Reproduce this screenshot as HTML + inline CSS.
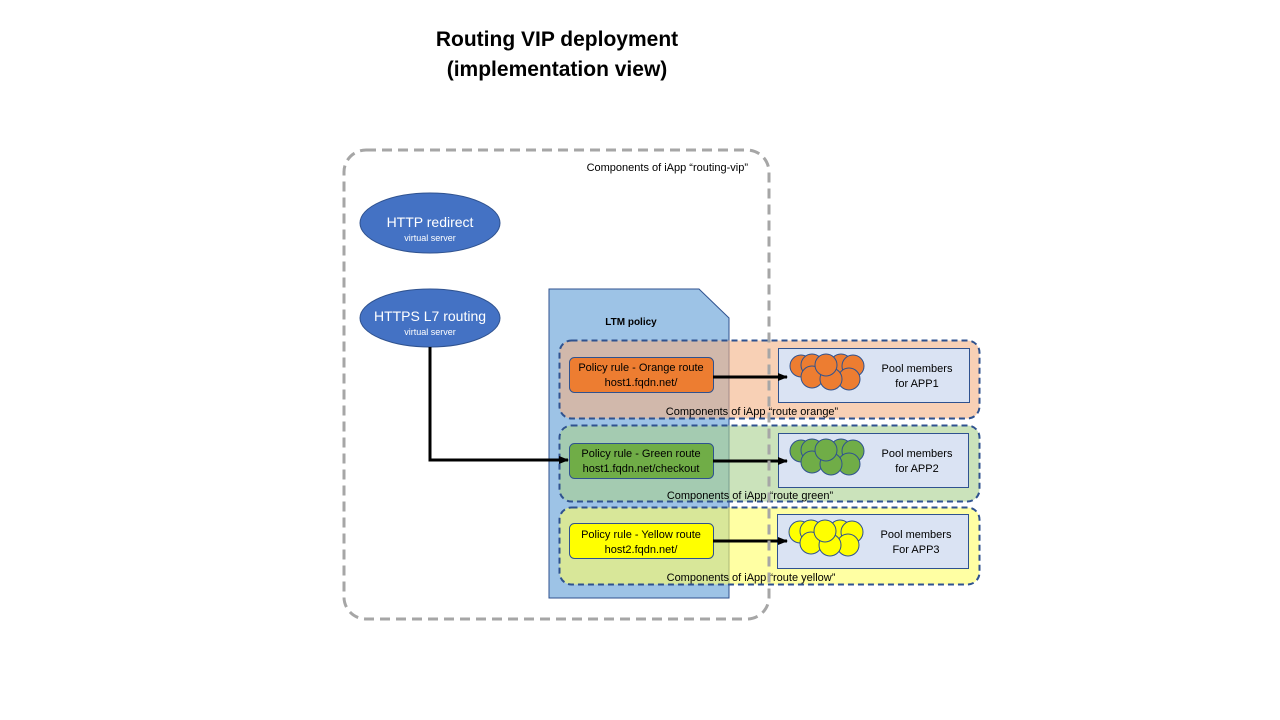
<!DOCTYPE html>
<html><head><meta charset="utf-8"><style>
html,body{margin:0;padding:0;background:#fff;}
svg{display:block;font-family:"Liberation Sans",Calibri,sans-serif;}
</style></head><body>
<svg width="1280" height="720" viewBox="0 0 1280 720" xmlns="http://www.w3.org/2000/svg">
<defs>
<marker id="ar" markerWidth="10" markerHeight="8" refX="9" refY="4" orient="auto" markerUnits="userSpaceOnUse">
<path d="M0,0 L10,4 L0,8 z" fill="#000"/>
</marker>
<g id="cl">
<circle cx="0" cy="0" r="11"/><circle cx="11" cy="-1" r="11"/>
<circle cx="40" cy="-1" r="11"/><circle cx="52" cy="0" r="11"/>
<circle cx="11" cy="11" r="11"/><circle cx="48" cy="13" r="11"/>
<circle cx="30" cy="13" r="11"/><circle cx="25" cy="-1" r="11"/>
</g>
</defs>
<text x="557" y="46" font-size="21" font-weight="bold" text-anchor="middle">Routing VIP deployment</text>
<text x="557" y="76" font-size="21" font-weight="bold" text-anchor="middle">(implementation view)</text>

<ellipse cx="430" cy="223" rx="70" ry="30" fill="#4472c4" stroke="#2f528f"/>
<text x="430" y="227" font-size="14" fill="#fff" text-anchor="middle">HTTP redirect</text>
<text x="430" y="241" font-size="9" fill="#fff" text-anchor="middle">virtual server</text>
<ellipse cx="430" cy="318" rx="70" ry="29" fill="#4472c4" stroke="#2f528f"/>
<text x="430" y="321" font-size="14" fill="#fff" text-anchor="middle">HTTPS L7 routing</text>
<text x="430" y="335" font-size="9" fill="#fff" text-anchor="middle">virtual server</text>

<path d="M549,289 L699,289 L729,318 L729,598 L549,598 Z" fill="#9dc3e6" stroke="#2f528f" stroke-width="1"/>
<text x="631" y="325" font-size="10" font-weight="bold" text-anchor="middle">LTM policy</text>

<rect x="559.5" y="340.5" width="420" height="78" rx="12" fill="#f4b183" fill-opacity="0.6" stroke="#2f528f" stroke-width="2" stroke-dasharray="6,4"/>
<rect x="559.5" y="425.5" width="420" height="76" rx="12" fill="#a9d18e" fill-opacity="0.6" stroke="#2f528f" stroke-width="2" stroke-dasharray="6,4"/>
<rect x="559.5" y="507.5" width="420" height="77" rx="12" fill="#ffff66" fill-opacity="0.6" stroke="#2f528f" stroke-width="2" stroke-dasharray="6,4"/>

<rect x="569.5" y="357.5" width="144" height="35" rx="5" fill="#ed7d31" stroke="#2f528f"/>
<text x="641" y="371" font-size="11" text-anchor="middle">Policy rule - Orange route</text>
<text x="641" y="386" font-size="11" text-anchor="middle">host1.fqdn.net/</text>
<rect x="569.5" y="443.5" width="144" height="35" rx="5" fill="#70ad47" stroke="#2f528f"/>
<text x="641" y="457" font-size="11" text-anchor="middle">Policy rule - Green route</text>
<text x="641" y="472" font-size="11" text-anchor="middle">host1.fqdn.net/checkout</text>
<rect x="569.5" y="523.5" width="144" height="35" rx="5" fill="#ffff00" stroke="#2f528f"/>
<text x="641" y="538" font-size="11" text-anchor="middle">Policy rule - Yellow route</text>
<text x="641" y="553" font-size="11" text-anchor="middle">host2.fqdn.net/</text>

<rect x="778.5" y="348.5" width="191" height="54" fill="#dae3f3" stroke="#2f528f"/>
<rect x="778.5" y="433.5" width="190" height="54" fill="#dae3f3" stroke="#2f528f"/>
<rect x="777.5" y="514.5" width="191" height="54" fill="#dae3f3" stroke="#2f528f"/>
<use href="#cl" x="801" y="366" fill="#ed7d31" stroke="#2f528f"/>
<use href="#cl" x="801" y="451" fill="#70ad47" stroke="#2f528f"/>
<use href="#cl" x="800" y="532" fill="#ffff00" stroke="#2f528f"/>
<text x="917" y="372" font-size="11" text-anchor="middle">Pool members</text>
<text x="917" y="387" font-size="11" text-anchor="middle">for APP1</text>
<text x="917" y="457" font-size="11" text-anchor="middle">Pool members</text>
<text x="917" y="472" font-size="11" text-anchor="middle">for APP2</text>
<text x="916" y="538" font-size="11" text-anchor="middle">Pool members</text>
<text x="916" y="553" font-size="11" text-anchor="middle">For APP3</text>

<text x="752" y="415" font-size="11" text-anchor="middle">Components of iApp “route orange”</text>
<text x="750" y="499" font-size="11" text-anchor="middle">Components of iApp “route green”</text>
<text x="751" y="581" font-size="11" text-anchor="middle">Components of iApp “route yellow”</text>

<line x1="713" y1="377" x2="787" y2="377" stroke="#000" stroke-width="3" marker-end="url(#ar)"/>
<line x1="713" y1="461" x2="787" y2="461" stroke="#000" stroke-width="3" marker-end="url(#ar)"/>
<line x1="713" y1="541" x2="787" y2="541" stroke="#000" stroke-width="3" marker-end="url(#ar)"/>
<path d="M430,347 L430,460 L568,460" fill="none" stroke="#000" stroke-width="3" marker-end="url(#ar)"/>

<rect x="344" y="150" width="425" height="469" rx="22" fill="none" stroke="#a6a6a6" stroke-width="3" stroke-dasharray="10,6"/>
<text x="748" y="171" font-size="11" text-anchor="end">Components of iApp “routing-vip”</text>
</svg>
</body></html>
